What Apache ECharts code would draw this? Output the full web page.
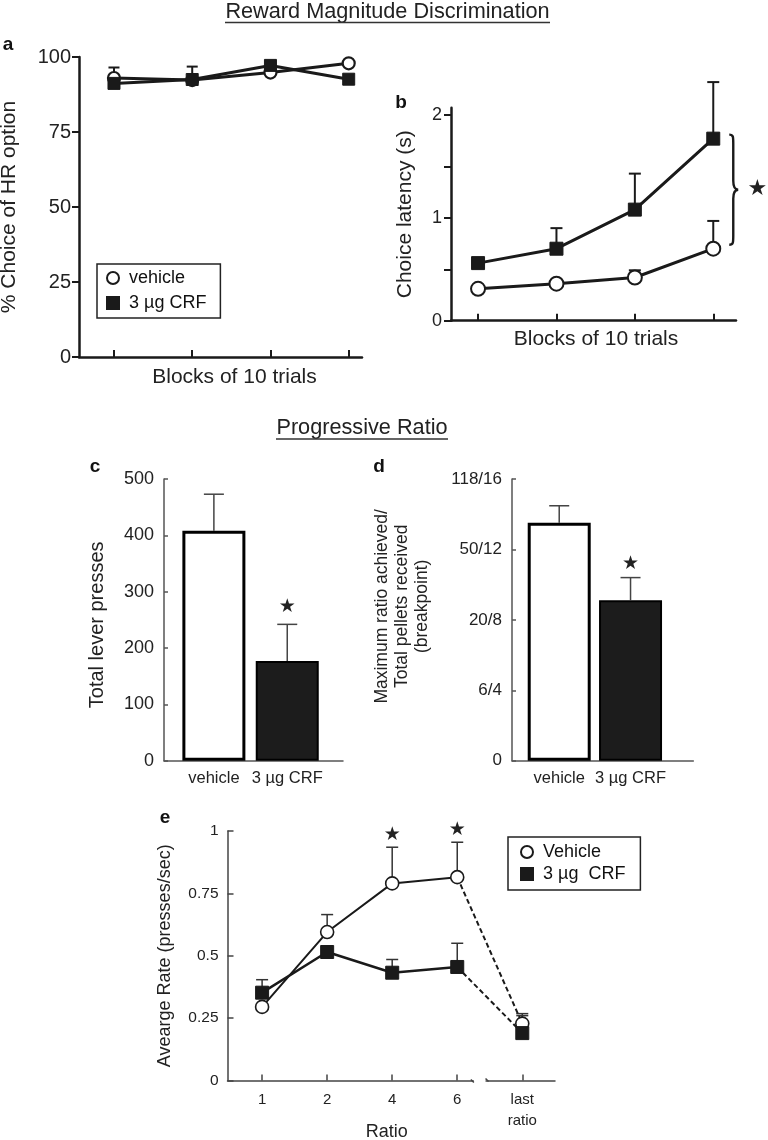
<!DOCTYPE html>
<html><head><meta charset="utf-8">
<script src="https://cdn.jsdelivr.net/npm/echarts@6/dist/echarts.min.js"></script>
<style>html,body{margin:0;padding:0;background:#fff}#c{width:768px;height:1140px}</style>
</head><body><div id="c"></div>
<script>
// ---------------- DATA ----------------
const blocks = [1, 2, 3, 4];
const aVehicle = [93, 92.3, 94.8, 97.9];
const aVehicleErr = [3.5, 4.5, 0, 0];
const aCRF = [91.2, 92.5, 97.2, 92.6];
const aCRFErr = [0, 0, 0, 0];

const bVehicle = [0.31, 0.36, 0.42, 0.70];
const bVehicleErr = [0, 0, 0.07, 0.27];
const bCRF = [0.56, 0.70, 1.08, 1.77];
const bCRFErr = [0, 0.20, 0.35, 0.55];
const bTicks = [0, 0.5, 1, 1.5, 2];
const bLabels = [0, 1, 2];

const groups = ['vehicle', '3 µg CRF'];
const groupPos = [1, 2];
const cPresses = [408, 177];
const cPressesErr = [65, 65];
const cSig = [false, true];

const dTickLabels = ['0', '6/4', '20/8', '50/12', '118/16'];
const dBreakpoint = [3.38, 2.28];     // position on the ordinal breakpoint scale
const dBreakpointErr = [0.24, 0.32];
const dSig = [false, true];

const eRatios = ['1', '2', '4', '6', 'last\nratio'];
const ePos = [0, 1, 2, 3, 4];
const eVehicle = [0.295, 0.595, 0.79, 0.815, 0.228];
const eVehicleErr = [0, 0.07, 0.145, 0.14, 0.04];
const eCRF = [0.352, 0.515, 0.432, 0.455, 0.19];
const eCRFErr = [0.052, 0, 0.053, 0.095, 0.07];
const eSig = [false, false, true, true, false];

// ---------------- HELPERS ----------------
const FONT = '"Liberation Sans", Arial, Helvetica, sans-serif';
const STARFONT = '"DejaVu Sans", sans-serif';
const INK = '#1a1a1a';
const TXT = '#222';

const pairs = (xs, ys) => xs.map((x, i) => [x, ys[i]]);
const triples = (xs, ys, es) => xs.map((x, i) => [x, ys[i], es[i]]);

function errSeries(g, data, color, width, cap) {
  return {
    type: 'custom', xAxisIndex: g, yAxisIndex: g, z: 1, silent: true, clip: false, data,
    renderItem(params, api) {
      const e = api.value(2);
      if (!e) return { type: 'group', children: [] };
      const p0 = api.coord([api.value(0), api.value(1)]);
      const p1 = api.coord([api.value(0), api.value(1) + e]);
      const st = { stroke: color, lineWidth: width };
      return { type: 'group', children: [
        { type: 'line', shape: { x1: p0[0], y1: p0[1], x2: p1[0], y2: p1[1] }, style: st },
        { type: 'line', shape: { x1: p1[0] - cap / 2, y1: p1[1], x2: p1[0] + cap / 2, y2: p1[1] }, style: st }
      ]};
    }
  };
}
function starSeries(g, xs, ys, es, sig, size, offset) {
  const data = xs.map((x, i) => [x, ys[i] + es[i]]).filter((d, i) => sig[i]);
  return {
    type: 'custom', xAxisIndex: g, yAxisIndex: g, z: 5, silent: true, clip: false, data,
    renderItem(params, api) {
      const p = api.coord([api.value(0), api.value(1)]);
      return { type: 'text', x: p[0], y: p[1] - offset,
        style: { text: '★', fontSize: size, fontFamily: STARFONT, fill: TXT, align: 'center', verticalAlign: 'middle' } };
    }
  };
}
function lineSeries(g, data, width, dashed) {
  return { type: 'line', xAxisIndex: g, yAxisIndex: g, data, symbol: 'none', showSymbol: false, silent: true, z: 2,
    lineStyle: { color: INK, width, type: dashed ? [5, 3] : 'solid' } };
}
function markerSeries(g, name, data, shape, size, bw) {
  const open = shape === 'circle';
  return { type: 'scatter', name, xAxisIndex: g, yAxisIndex: g, data, symbol: shape, symbolSize: size, z: 3, silent: true,
    itemStyle: { color: open ? '#fff' : INK, borderColor: INK, borderWidth: bw, opacity: 1 } };
}
function nameStyle(size, pad) {
  return { fontFamily: FONT, fontSize: size, color: TXT, padding: pad || 0 };
}

// ---------------- CHART ----------------
const chart = echarts.init(document.getElementById('c'), null, { renderer: 'canvas' });

const grids = [
  { left: 79, top: 57, width: 283, height: 300 },
  { left: 451, top: 107.8, width: 285, height: 212.9 },
  { left: 164, top: 479, width: 179, height: 281.7 },
  { left: 512, top: 479, width: 181.3, height: 281.7 },
  { left: 227.5, top: 831, width: 327.5, height: 249.5 }
].map(g => Object.assign({ outerBoundsMode: 'none', containLabel: false }, g));

const thick = { show: true, onZero: false, lineStyle: { color: INK, width: 2.5 } };
const thin = { show: true, onZero: false, lineStyle: { color: '#555', width: 1.5 } };
const thinE = { show: true, onZero: false, lineStyle: { color: '#444', width: 1.5 } };

const xAxes = [
  { gridIndex: 0, type: 'value', min: 0.553, max: 4.17, axisLine: thick,
    axisTick: { show: true, inside: true, length: 7, customValues: blocks, lineStyle: { color: INK, width: 2 } },
    axisLabel: { show: false }, splitLine: { show: false },
    name: 'Blocks of 10 trials', nameLocation: 'middle', nameGap: 10, nameMoveOverlap: false,
    nameTextStyle: Object.assign(nameStyle(21, [0, 0, 0, 28]), { verticalAlign: 'top' }) },
  { gridIndex: 1, type: 'value', min: 0.655, max: 4.29, axisLine: thick,
    axisTick: { show: true, inside: true, length: 7, customValues: blocks, lineStyle: { color: INK, width: 2 } },
    axisLabel: { show: false }, splitLine: { show: false },
    name: 'Blocks of 10 trials', nameLocation: 'middle', nameGap: 8, nameMoveOverlap: false,
    nameTextStyle: Object.assign(nameStyle(21, [0, 0, 0, 5]), { verticalAlign: 'top' }) },
  { gridIndex: 2, type: 'value', min: 0.32, max: 2.76, axisLine: thin, axisTick: { show: false }, splitLine: { show: false },
    axisLabel: { customValues: groupPos, formatter: v => groups[Math.round(v) - 1], fontFamily: FONT, fontSize: 16.5, color: TXT, margin: 9 } },
  { gridIndex: 3, type: 'value', min: 0.338, max: 2.88, axisLine: thin, axisTick: { show: false }, splitLine: { show: false },
    axisLabel: { customValues: groupPos, formatter: v => groups[Math.round(v) - 1], fontFamily: FONT, fontSize: 16.5, color: TXT, margin: 9 } },
  { gridIndex: 4, type: 'value', min: -0.532, max: 4.503, axisLine: thinE,
    axisTick: { show: true, inside: true, length: 6, customValues: ePos, lineStyle: { color: '#444', width: 1.5 } },
    axisLabel: { customValues: ePos, formatter: v => eRatios[Math.round(v)], fontFamily: FONT, fontSize: 15, color: TXT, margin: 9, lineHeight: 21 },
    splitLine: { show: false },
    name: 'Ratio', nameLocation: 'middle', nameGap: 51.5, nameMoveOverlap: false,
    nameTextStyle: Object.assign(nameStyle(18, [0, 9, 0, 0]), { verticalAlign: 'middle' }) }
];

const yAxes = [
  { gridIndex: 0, type: 'value', min: 0, max: 100, interval: 25, axisLine: thick,
    axisTick: { show: true, length: 7, lineStyle: { color: INK, width: 2 } }, splitLine: { show: false },
    axisLabel: { fontFamily: FONT, fontSize: 20, color: TXT, margin: 8 },
    name: '% Choice of HR option', nameLocation: 'middle', nameRotate: 90, nameGap: 59, nameMoveOverlap: false, nameTextStyle: nameStyle(21) },
  { gridIndex: 1, type: 'value', min: 0, max: 2.07, axisLine: thick,
    axisTick: { show: true, length: 7, customValues: bTicks, lineStyle: { color: INK, width: 2 } }, splitLine: { show: false },
    axisLabel: { customValues: bLabels, fontFamily: FONT, fontSize: 18, color: TXT, margin: 9 },
    name: 'Choice latency (s)', nameLocation: 'middle', nameRotate: 90, nameGap: 35, nameMoveOverlap: false, nameTextStyle: nameStyle(21) },
  { gridIndex: 2, type: 'value', min: 0, max: 500, interval: 100, axisLine: thin,
    axisTick: { show: true, inside: true, length: 4, lineStyle: { color: '#555', width: 1.5 } }, splitLine: { show: false },
    axisLabel: { fontFamily: FONT, fontSize: 18, color: TXT, margin: 10 },
    name: 'Total lever presses', nameLocation: 'middle', nameRotate: 90, nameGap: 57, nameMoveOverlap: false, nameTextStyle: nameStyle(20, [0, 10, 0, 0]) },
  { gridIndex: 3, type: 'value', min: 0, max: 4, interval: 1, axisLine: thin,
    axisTick: { show: true, inside: true, length: 4, lineStyle: { color: '#555', width: 1.5 } }, splitLine: { show: false },
    axisLabel: { formatter: v => dTickLabels[Math.round(v)], fontFamily: FONT, fontSize: 17, color: TXT, margin: 10 },
    name: 'Maximum ratio achieved/\nTotal pellets received\n(breakpoint)', nameLocation: 'middle', nameRotate: 90, nameGap: 80, nameMoveOverlap: false,
    nameTextStyle: Object.assign(nameStyle(17.5, [0, 0, 0, 27]), { lineHeight: 20, align: 'center' }) },
  { gridIndex: 4, type: 'value', min: 0, max: 1, interval: 0.25, axisLine: thinE,
    axisTick: { show: true, inside: true, length: 6, lineStyle: { color: '#444', width: 1.5 } }, splitLine: { show: false },
    axisLabel: { fontFamily: FONT, fontSize: 15.5, color: TXT, margin: 9 },
    name: 'Avearge Rate (presses/sec)', nameLocation: 'middle', nameRotate: 90, nameGap: 53, nameMoveOverlap: false, nameTextStyle: nameStyle(18) }
];

function barSeries(g, vals, width) {
  return { type: 'bar', xAxisIndex: g, yAxisIndex: g, barWidth: width, z: 2, silent: true,
    data: groupPos.map((x, i) => ({ value: [x, vals[i]],
      itemStyle: i === 0 ? { color: '#fff', borderColor: '#000', borderWidth: 3 } : { color: '#1c1c1c', borderColor: '#000', borderWidth: 2 } })) };
}

const series = [
  // panel a
  errSeries(0, triples(blocks, aVehicle, aVehicleErr), INK, 2, 11),
  errSeries(0, triples(blocks, aCRF, aCRFErr), INK, 2, 11),
  lineSeries(0, pairs(blocks, aVehicle), 3),
  lineSeries(0, pairs(blocks, aCRF), 3),
  markerSeries(0, 'vehicle', pairs(blocks, aVehicle), 'circle', 12, 2.2),
  markerSeries(0, '3 µg CRF', pairs(blocks, aCRF), 'rect', 12, 1),
  // panel b
  errSeries(1, triples(blocks, bVehicle, bVehicleErr), INK, 2, 12),
  errSeries(1, triples(blocks, bCRF, bCRFErr), INK, 2, 12),
  lineSeries(1, pairs(blocks, bVehicle), 3),
  lineSeries(1, pairs(blocks, bCRF), 3),
  markerSeries(1, 'vehicle', pairs(blocks, bVehicle), 'circle', 14, 2),
  markerSeries(1, '3 µg CRF', pairs(blocks, bCRF), 'rect', 13, 1),
  { type: 'custom', xAxisIndex: 1, yAxisIndex: 1, z: 4, silent: true, clip: false,
    data: [[blocks[blocks.length - 1], bVehicle[bVehicle.length - 1], bCRF[bCRF.length - 1]]],
    renderItem(params, api) {
      const x0 = api.coord([api.value(0), 0])[0] + 16;
      const yb = api.coord([0, api.value(1)])[1] - 4;
      const yt = api.coord([0, api.value(2)])[1] - 4;
      const ym = (yt + yb) / 2, s = x0 + 4, t = x0 + 9;
      const d = `M${x0} ${yt} C${s} ${yt} ${s} ${yt + 2} ${s} ${yt + 9} L${s} ${ym - 9} C${s} ${ym - 3} ${s + 2} ${ym} ${t} ${ym}` +
        ` C${s + 2} ${ym} ${s} ${ym + 3} ${s} ${ym + 9} L${s} ${yb - 9} C${s} ${yb - 2} ${s} ${yb} ${x0} ${yb}`;
      return { type: 'group', children: [
        { type: 'path', shape: { pathData: d }, style: { fill: null, stroke: INK, lineWidth: 2.4 } },
        { type: 'text', x: t + 19, y: ym, style: { text: '★', fontSize: 22, fontFamily: STARFONT, fill: TXT, align: 'center', verticalAlign: 'middle' } }
      ]};
    } },
  // panel c
  barSeries(2, cPresses, 63),
  errSeries(2, triples(groupPos, cPresses, cPressesErr), '#444', 1.5, 20),
  starSeries(2, groupPos, cPresses, cPressesErr, cSig, 19, 17),
  // panel d
  barSeries(3, dBreakpoint, 63),
  errSeries(3, triples(groupPos, dBreakpoint, dBreakpointErr), '#444', 1.5, 20),
  starSeries(3, groupPos, dBreakpoint, dBreakpointErr, dSig, 19, 14),
  // panel e
  errSeries(4, triples(ePos, eVehicle, eVehicleErr), '#333', 1.5, 12),
  errSeries(4, triples(ePos, eCRF, eCRFErr), '#333', 1.5, 12),
  lineSeries(4, pairs(ePos.slice(0, 4), eVehicle.slice(0, 4)), 2),
  lineSeries(4, pairs(ePos.slice(0, 4), eCRF.slice(0, 4)), 2.5),
  lineSeries(4, pairs(ePos.slice(3), eVehicle.slice(3)), 2, true),
  lineSeries(4, pairs(ePos.slice(3), eCRF.slice(3)), 2, true),
  markerSeries(4, 'Vehicle', pairs(ePos, eVehicle), 'circle', 13, 1.6),
  markerSeries(4, '3 µg  CRF', pairs(ePos, eCRF), 'rect', 13, 1),
  starSeries(4, ePos, eVehicle, eVehicleErr, eSig, 19, 12),
  // axis break on panel e
  { type: 'custom', xAxisIndex: 4, yAxisIndex: 4, z: 6, silent: true, clip: false,
    data: [[ePos[ePos.length - 2], 0]],
    renderItem(params, api) {
      const a = api.coord([api.value(0), 0]);
      const b = api.coord([api.value(0) + 1, 0]);
      const g0 = a[0] + 0.255 * (b[0] - a[0]), g1 = a[0] + 0.435 * (b[0] - a[0]);
      const st = { stroke: '#444', lineWidth: 1.5 };
      return { type: 'group', children: [
        { type: 'rect', shape: { x: g0, y: a[1] - 3, width: g1 - g0, height: 6 }, style: { fill: '#fff' } },
        { type: 'line', shape: { x1: g0 - 3, y1: a[1] - 1, x2: g0, y2: a[1] + 2 }, style: st },
        { type: 'line', shape: { x1: g1 + 3, y1: a[1] + 1, x2: g1, y2: a[1] - 2 }, style: st }
      ]};
    } }
];

const legendBase = { orient: 'vertical', selectedMode: false, borderColor: '#222', borderWidth: 1.5, backgroundColor: '#fff',
  itemWidth: 12, itemHeight: 12,
  textStyle: { fontFamily: FONT, fontSize: 18, color: '#111', padding: [0, 0, 0, 5] } };

chart.setOption({
  animation: false,
  backgroundColor: '#fff',
  grid: grids,
  xAxis: xAxes,
  yAxis: yAxes,
  legend: [
    Object.assign({}, legendBase, { left: 97, top: 264, padding: [5, 14, 6, 9], itemGap: 7,
      data: ['vehicle', '3 µg CRF'] }),
    Object.assign({}, legendBase, { left: 508, top: 837, padding: [6, 15, 7, 12], itemGap: 4,
      data: ['Vehicle', '3 µg  CRF'] })
  ],
  graphic: [
    { type: 'text', x: 387.5, y: 12.5, style: { text: 'Reward Magnitude Discrimination', fontFamily: FONT, fontSize: 21.7, fill: TXT, align: 'center', verticalAlign: 'middle' } },
    { type: 'line', shape: { x1: 225, y1: 22.5, x2: 550, y2: 22.5 }, style: { stroke: '#333', lineWidth: 1.3 } },
    { type: 'text', x: 362, y: 428, style: { text: 'Progressive Ratio', fontFamily: FONT, fontSize: 21.7, fill: TXT, align: 'center', verticalAlign: 'middle' } },
    { type: 'line', shape: { x1: 276, y1: 439, x2: 448, y2: 439 }, style: { stroke: '#333', lineWidth: 1.3 } },
    { type: 'text', x: 8, y: 45, style: { text: 'a', fontFamily: FONT, fontWeight: 'bold', fontSize: 19, fill: '#111', align: 'center', verticalAlign: 'middle' } },
    { type: 'text', x: 401, y: 103, style: { text: 'b', fontFamily: FONT, fontWeight: 'bold', fontSize: 19, fill: '#111', align: 'center', verticalAlign: 'middle' } },
    { type: 'text', x: 95, y: 467, style: { text: 'c', fontFamily: FONT, fontWeight: 'bold', fontSize: 19, fill: '#111', align: 'center', verticalAlign: 'middle' } },
    { type: 'text', x: 379, y: 467, style: { text: 'd', fontFamily: FONT, fontWeight: 'bold', fontSize: 19, fill: '#111', align: 'center', verticalAlign: 'middle' } },
    { type: 'text', x: 165, y: 818, style: { text: 'e', fontFamily: FONT, fontWeight: 'bold', fontSize: 19, fill: '#111', align: 'center', verticalAlign: 'middle' } }
  ],
  series
});
</script></body></html>
